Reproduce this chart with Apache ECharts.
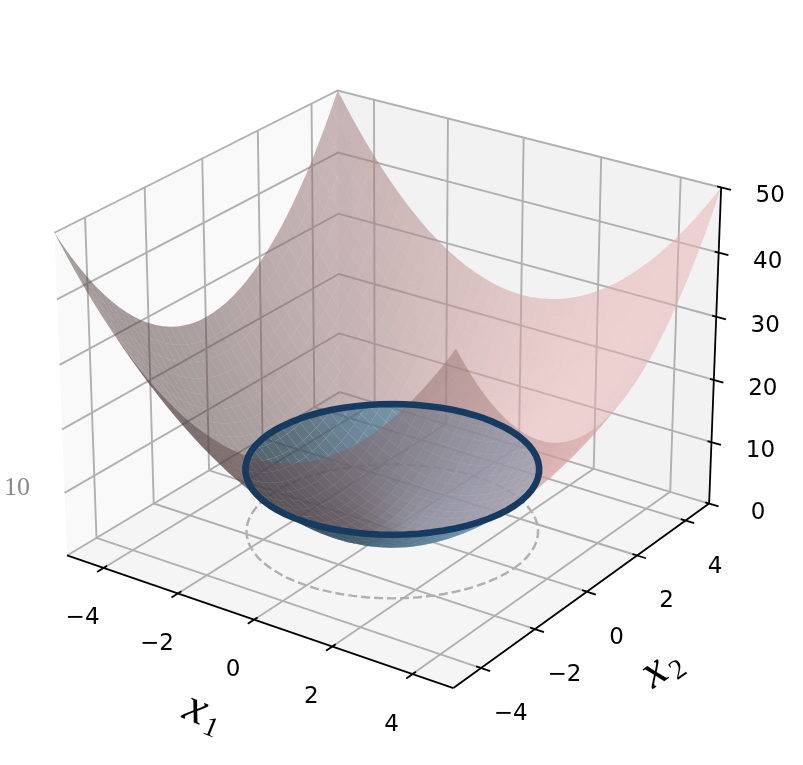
<!DOCTYPE html>
<html><head><meta charset="utf-8">
<style>html,body{margin:0;padding:0;background:#fff}#c{width:803px;height:765px}</style>
<script src="https://cdn.jsdelivr.net/npm/echarts@6/dist/echarts.min.js"></script>
</head><body><div id="c"></div>
<script>
// Axis ticks
var x1Ticks=[-4,-2,0,2,4];
var x2Ticks=[-4,-2,0,2,4];
var zTicks=[0,10,20,30,40,50];
var x1TickLabels=['\u22124','\u22122','0','2','4'];
var x2TickLabels=['\u22124','\u22122','0','2','4'];
var zTickLabels=['0','10','20','30','40','50'];
var levelZ=10;
// Mesh positions along |x1|, |x2|
var meshAbs=[0,.25,.5,.75,1,1.25,1.5,1.75,2,2.25,2.5,2.75,3,3.25,3.5,3.75,4,4.25,4.5,4.75,5];
// Surface height for one quadrant (rows |x2|, columns |x1|); the bowl is mirror symmetric
var zQuadrant=[
[0,.06,.25,.56,1,1.56,2.25,3.06,4,5.06,6.25,7.56,9,10.56,12.25,14.06,16,18.06,20.25,22.56,25],
[.06,.12,.31,.62,1.06,1.62,2.31,3.12,4.06,5.12,6.31,7.62,9.06,10.62,12.31,14.12,16.06,18.12,20.31,22.62,25.06],
[.25,.31,.5,.81,1.25,1.81,2.5,3.31,4.25,5.31,6.5,7.81,9.25,10.81,12.5,14.31,16.25,18.31,20.5,22.81,25.25],
[.56,.62,.81,1.12,1.56,2.12,2.81,3.62,4.56,5.62,6.81,8.12,9.56,11.12,12.81,14.62,16.56,18.62,20.81,23.12,25.56],
[1,1.06,1.25,1.56,2,2.56,3.25,4.06,5,6.06,7.25,8.56,10,11.56,13.25,15.06,17,19.06,21.25,23.56,26],
[1.56,1.62,1.81,2.12,2.56,3.12,3.81,4.62,5.56,6.62,7.81,9.12,10.56,12.12,13.81,15.62,17.56,19.62,21.81,24.12,26.56],
[2.25,2.31,2.5,2.81,3.25,3.81,4.5,5.31,6.25,7.31,8.5,9.81,11.25,12.81,14.5,16.31,18.25,20.31,22.5,24.81,27.25],
[3.06,3.12,3.31,3.62,4.06,4.62,5.31,6.12,7.06,8.12,9.31,10.62,12.06,13.62,15.31,17.12,19.06,21.12,23.31,25.62,28.06],
[4,4.06,4.25,4.56,5,5.56,6.25,7.06,8,9.06,10.25,11.56,13,14.56,16.25,18.06,20,22.06,24.25,26.56,29],
[5.06,5.12,5.31,5.62,6.06,6.62,7.31,8.12,9.06,10.12,11.31,12.62,14.06,15.62,17.31,19.12,21.06,23.12,25.31,27.62,30.06],
[6.25,6.31,6.5,6.81,7.25,7.81,8.5,9.31,10.25,11.31,12.5,13.81,15.25,16.81,18.5,20.31,22.25,24.31,26.5,28.81,31.25],
[7.56,7.62,7.81,8.12,8.56,9.12,9.81,10.62,11.56,12.62,13.81,15.12,16.56,18.12,19.81,21.62,23.56,25.62,27.81,30.12,32.56],
[9,9.06,9.25,9.56,10,10.56,11.25,12.06,13,14.06,15.25,16.56,18,19.56,21.25,23.06,25,27.06,29.25,31.56,34],
[10.56,10.62,10.81,11.12,11.56,12.12,12.81,13.62,14.56,15.62,16.81,18.12,19.56,21.12,22.81,24.62,26.56,28.62,30.81,33.12,35.56],
[12.25,12.31,12.5,12.81,13.25,13.81,14.5,15.31,16.25,17.31,18.5,19.81,21.25,22.81,24.5,26.31,28.25,30.31,32.5,34.81,37.25],
[14.06,14.12,14.31,14.62,15.06,15.62,16.31,17.12,18.06,19.12,20.31,21.62,23.06,24.62,26.31,28.12,30.06,32.12,34.31,36.62,39.06],
[16,16.06,16.25,16.56,17,17.56,18.25,19.06,20,21.06,22.25,23.56,25,26.56,28.25,30.06,32,34.06,36.25,38.56,41],
[18.06,18.12,18.31,18.62,19.06,19.62,20.31,21.12,22.06,23.12,24.31,25.62,27.06,28.62,30.31,32.12,34.06,36.12,38.31,40.62,43.06],
[20.25,20.31,20.5,20.81,21.25,21.81,22.5,23.31,24.25,25.31,26.5,27.81,29.25,30.81,32.5,34.31,36.25,38.31,40.5,42.81,45.25],
[22.56,22.62,22.81,23.12,23.56,24.12,24.81,25.62,26.56,27.62,28.81,30.12,31.56,33.12,34.81,36.62,38.56,40.62,42.81,45.12,47.56],
[25,25.06,25.25,25.56,26,26.56,27.25,28.06,29,30.06,31.25,32.56,34,35.56,37.25,39.06,41,43.06,45.25,47.56,50]
];
// Level circle where the bowl crosses height 10: one quarter, from the x1 axis to the x2 axis
var ringQuarterX1=[3.162,3.150,3.114,3.054,2.971,2.866,2.738,2.590,2.422,2.236,2.033,1.814,1.581,1.336,1.081,.818,.549,.276,0];
var ringQuarterX2=[0,.276,.549,.818,1.081,1.336,1.581,1.814,2.033,2.236,2.422,2.590,2.738,2.866,2.971,3.054,3.114,3.150,3.162];

var PINK=[234,175,175],PINK_A=.5,BLUE=[120,170,205],BLUE_A=.8;
var GRID='#b0b0b0',FONT='"DejaVu Sans"',MATH='"Liberation Serif"';

// Camera
var el=25*Math.PI/180,az=-55*Math.PI/180,s=Math.sin(el),c=Math.cos(el),ca=Math.cos(az),sa=Math.sin(az);
function depth(p){var dx=p[0]/5*.5952,dy=p[1]/5*.5952,dz=(p[2]/50-.5)*.8929;return 10-(ca*c*dx+sa*c*dy+s*dz);}
function project(p){var dx=p[0]/5*.5952,dy=p[1]/5*.5952,dz=(p[2]/50-.5)*.8929;var D=depth(p);
  return [(-sa*dx+ca*dy)/D,(-ca*s*dx-sa*s*dy+c*dz)/D];}

// Mirror the quadrant to the full mesh
var N=meshAbs.length*2-1,H=meshAbs.length-1;
function coord(k){return k<H?-meshAbs[H-k]:meshAbs[k-H];}
function height(i,j){return zQuadrant[Math.abs(j-H)][Math.abs(i-H)];}

function clip(poly,keepBelow){var out=[];for(var k=0;k<poly.length;k++){var a=poly[k],b=poly[(k+1)%poly.length];
  var ai=keepBelow?a[2]<=levelZ:a[2]>=levelZ,bi=keepBelow?b[2]<=levelZ:b[2]>=levelZ;
  if(ai)out.push(a);
  if(ai!==bi){var t=(levelZ-a[2])/(b[2]-a[2]);out.push([a[0]+t*(b[0]-a[0]),a[1]+t*(b[1]-a[1]),levelZ]);}}
  return out;}
var facets=[];
for(var i=0;i<N-1;i++)for(var j=0;j<N-1;j++){
  var q=[[coord(i),coord(j),height(i,j)],[coord(i+1),coord(j),height(i+1,j)],[coord(i+1),coord(j+1),height(i+1,j+1)],[coord(i),coord(j+1),height(i,j+1)]];
  var hx=coord(i+1)-coord(i),hy=coord(j+1)-coord(j);
  var zx=(q[1][2]+q[2][2]-q[0][2]-q[3][2])/(2*hx),zy=(q[3][2]+q[2][2]-q[0][2]-q[1][2])/(2*hy);
  var nl=Math.sqrt(zx*zx+zy*zy+1),sh=(-zx*-.667+-zy*-.667+.333)/nl,f=.3+.7*(sh+1)/2;
  [[true,BLUE,BLUE_A],[false,PINK,PINK_A]].forEach(function(o){
    var p=clip(q,o[0]);if(p.length<3)return;
    var d=0;p.forEach(function(v){d+=depth(v);});
    facets.push({p:p,d:d/p.length,col:'rgba('+Math.round(o[1][0]*f)+','+Math.round(o[1][1]*f)+','+Math.round(o[1][2]*f)+','+o[2]+')'});
  });
}
facets.sort(function(a,b){return b.d-a.d;});

var panes=[
 {p:[[-5,-5,0],[-5,5,0],[-5,5,50],[-5,-5,50]],c:'#f9f9f9'},
 {p:[[-5,5,0],[5,5,0],[5,5,50],[-5,5,50]],c:'#f2f2f2'},
 {p:[[-5,-5,0],[5,-5,0],[5,5,0],[-5,5,0]],c:'#f5f5f5'}];
var gridPaths=[];
x1Ticks.forEach(function(t){gridPaths.push([[t,-5,0],[t,5,0],[t,5,50]]);});
x2Ticks.forEach(function(t){gridPaths.push([[5,t,0],[-5,t,0],[-5,t,50]]);});
zTicks.forEach(function(t){gridPaths.push([[-5,-5,t],[-5,5,t],[5,5,t]]);});
var axisPaths=[[[-5,-5,0],[5,-5,0]],[[5,-5,0],[5,5,0]],[[5,5,0],[5,5,50]]];
x1Ticks.forEach(function(t){axisPaths.push([[t,-4.88,0],[t,-5.22,0]]);});
x2Ticks.forEach(function(t){axisPaths.push([[4.88,t,0],[5.22,t,0]]);});
zTicks.forEach(function(t){axisPaths.push([[4.9,5,t],[5.24,5,t]]);});
var labels=[];
x1Ticks.forEach(function(t,k){labels.push({a:[t,-5,0],o:[-21,50.5],t:x1TickLabels[k]});});
x2Ticks.forEach(function(t,k){labels.push({a:[5,t,0],o:[29.5,46],t:x2TickLabels[k]});});
zTicks.forEach(function(t,k){labels.push({a:[5,5,t],o:[49,9],t:zTickLabels[k]});});

function idx(list){return list.map(function(_,k){return [k];});}
function pts(api,list){return list.map(function(v){return api.coord(project(v));});}
function custom(list,render){return {type:'custom',coordinateSystem:'cartesian2d',data:idx(list),encode:{x:0,y:0},renderItem:render,silent:true,progressive:0,clip:false,animation:false};}

// Whole circle from the quarter
var ringXY=[];
[[1,1,false],[-1,1,true],[-1,-1,false],[1,-1,true]].forEach(function(m){
  var n=ringQuarterX1.length;
  for(var k=0;k<n-1;k++){var a=m[2]?n-1-k:k;ringXY.push([m[0]*ringQuarterX1[a],m[1]*ringQuarterX2[a]]);}
});
var ring3=ringXY.map(function(v){return [v[0],v[1],levelZ];});
var floor3=ringXY.map(function(v){return [v[0],v[1],0];});

var series=[
 custom(panes,function(p,api){var o=panes[api.value(0)];return {type:'polygon',shape:{points:pts(api,o.p)},style:{fill:o.c}};}),
 custom(gridPaths,function(p,api){return {type:'polyline',shape:{points:pts(api,gridPaths[api.value(0)])},style:{fill:null,stroke:GRID,lineWidth:1.9}};}),
 custom([0],function(p,api){return {type:'polygon',shape:{points:pts(api,floor3)},style:{fill:null,stroke:GRID,lineWidth:2.4,lineDash:[9,4]}};}),
 custom(facets,function(p,api){var o=facets[api.value(0)];return {type:'polygon',shape:{points:pts(api,o.p)},style:{fill:o.col}};}),
 custom([0],function(p,api){return {type:'polygon',shape:{points:pts(api,ring3)},style:{fill:null,stroke:'#163a60',lineWidth:6.6,lineJoin:'round'}};}),
 custom(axisPaths,function(p,api){return {type:'polyline',shape:{points:pts(api,axisPaths[api.value(0)])},style:{fill:null,stroke:'#000',lineWidth:1.8}};}),
 custom(labels,function(p,api){var o=labels[api.value(0)],q=api.coord(project(o.a));
   return {type:'text',x:q[0]+o.o[0],y:q[1]+o.o[1],style:{text:o.t,fontFamily:FONT,fontSize:23,fill:'#000',align:'center',verticalAlign:'middle'}};})
];
var chart=echarts.init(document.getElementById('c'),null,{renderer:'canvas'});
chart.setOption({
 animation:false,backgroundColor:'#fff',
 grid:{left:0,right:0,top:0,bottom:0},
 xAxis:{type:'value',min:-.09944,max:.10411,show:false},
 yAxis:{type:'value',min:-.09949,max:.09442,show:false},
 graphic:[
  {type:'text',x:17,y:488,style:{text:'10',fontFamily:'"Liberation Serif"',fontSize:26,fill:'#888',align:'center',verticalAlign:'middle'}},
  {type:'group',x:201,y:715,rotation:-22*Math.PI/180,children:[
    {type:'text',x:-7,y:-3,style:{text:'x',font:'italic 48px "Liberation Serif"',fill:'#000',align:'center',verticalAlign:'middle'}},
    {type:'text',x:14,y:9,style:{text:'1',fontFamily:MATH,fontSize:28,fill:'#000',align:'center',verticalAlign:'middle'}}]},
  {type:'group',x:662,y:671,rotation:35*Math.PI/180,children:[
    {type:'text',x:-7,y:-3,style:{text:'x',font:'italic 48px "Liberation Serif"',fill:'#000',align:'center',verticalAlign:'middle'}},
    {type:'text',x:14,y:9,style:{text:'2',fontFamily:MATH,fontSize:28,fill:'#000',align:'center',verticalAlign:'middle'}}]}
 ],
 series:series
});
</script></body></html>
